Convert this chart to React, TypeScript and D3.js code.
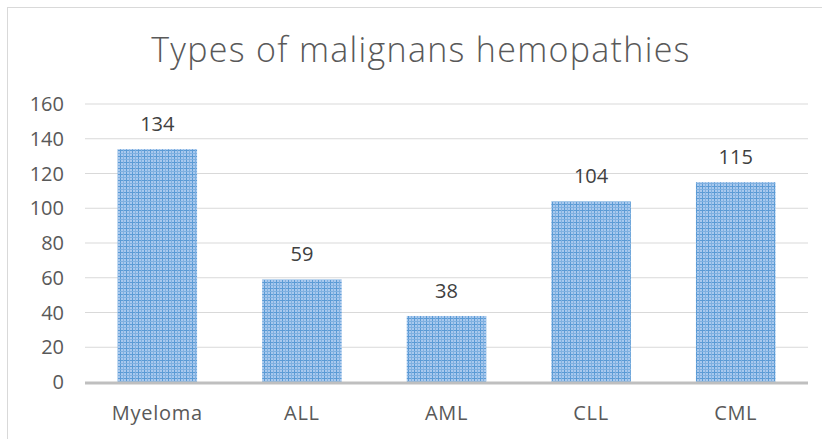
import React from "react";
import * as d3 from "d3";

const categories = ["Myeloma", "ALL", "AML", "CLL", "CML"];
const counts = [134, 59, 38, 104, 115];
const yTicks = [0, 20, 40, 60, 80, 100, 120, 140, 160];
const title = "Types of malignans hemopathies";

const W = 822;
const H = 439;
const margin = { top: 104, right: 14, bottom: 57, left: 85 };
const font = "'Open Sans', 'Noto Sans', sans-serif";
const textColor = "#595959";

export default function App() {
  const x = d3
    .scaleBand<string>()
    .domain(categories)
    .range([margin.left, W - margin.right])
    .paddingInner(0.45)
    .paddingOuter(0.225);

  const y = d3
    .scaleLinear()
    .domain([0, 160])
    .range([H - margin.bottom, margin.top]);

  return (
    <svg
      width={W}
      height={H}
      style={{ position: "absolute", left: 0, top: 0, background: "#fff" }}
    >
      <defs>
        <pattern id="plaid" width="6" height="6" patternUnits="userSpaceOnUse">
          <rect width="6" height="6" fill="#a9c9ee" />
          <rect x="0" y="0" width="6" height="1" fill="#5b9bd5" />
          <rect x="0" y="0" width="1" height="6" fill="#5b9bd5" />
          <rect x="3" y="0" width="1" height="6" fill="#7fb0e0" />
          <rect x="0" y="3" width="6" height="1" fill="#7fb0e0" />
        </pattern>
      </defs>

      {/* chart border */}
      <rect
        x={7.5}
        y={7.5}
        width={W + 10}
        height={H + 10}
        fill="none"
        stroke="#d9d9d9"
        strokeWidth={1}
      />

      <text
        x={421}
        y={62}
        textAnchor="middle"
        fill={textColor}
        fontFamily={font}
        fontSize={34}
        fontWeight={300}
        letterSpacing={1.3}
      >
        {title}
      </text>

      {/* grid */}
      {yTicks.map((t) => (
        <g key={t}>
          {t > 0 && (
            <line
              x1={margin.left}
              x2={W - margin.right}
              y1={y(t)}
              y2={y(t)}
              stroke="#d9d9d9"
              strokeWidth={1}
            />
          )}
          <text
            x={64}
            y={y(t)}
            dy="0.36em"
            textAnchor="end"
            fill={textColor}
            fontFamily={font}
            fontSize={20}
          >
            {t}
          </text>
        </g>
      ))}

      {/* bars */}
      {categories.map((c, i) => (
        <g key={c}>
          <rect
            x={x(c)}
            y={y(counts[i])}
            width={x.bandwidth()}
            height={y(0) - y(counts[i])}
            fill="url(#plaid)"
          />
          <text
            x={(x(c) ?? 0) + x.bandwidth() / 2}
            y={y(counts[i]) - 18}
            textAnchor="middle"
            fill="#404040"
            fontFamily={font}
            fontSize={20}
          >
            {counts[i]}
          </text>
          <text
            x={(x(c) ?? 0) + x.bandwidth() / 2}
            y={420}
            textAnchor="middle"
            fill={textColor}
            fontFamily={font}
            fontSize={20}
            letterSpacing={0.7}
          >
            {c}
          </text>
        </g>
      ))}

      {/* x axis line */}
      <line
        x1={margin.left}
        x2={W - margin.right}
        y1={y(0) + 1}
        y2={y(0) + 1}
        stroke="#bfbfbf"
        strokeWidth={3}
      />
    </svg>
  );
}
